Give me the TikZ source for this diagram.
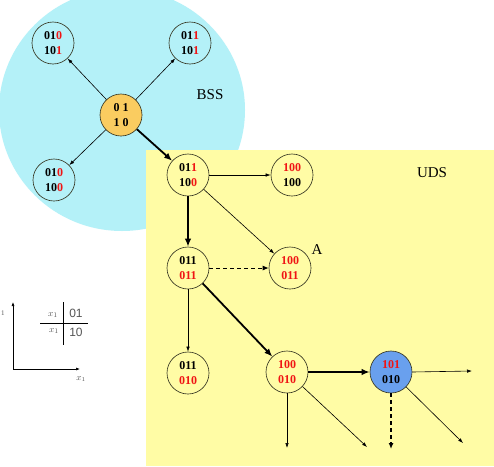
\documentclass[tikz,border=0pt]{standalone}
\usepackage{fontspec}
\setmainfont{Liberation Serif}
\newfontfamily\tabsans{Liberation Sans}
\usetikzlibrary{arrows.meta}
\definecolor{cyanbg}{RGB}{180,241,248}
\definecolor{yellowbg}{RGB}{255,252,165}
\definecolor{orangefill}{RGB}{250,204,96}
\definecolor{bluefill}{RGB}{105,160,238}
\definecolor{digitred}{RGB}{240,20,20}
\definecolor{nodeline}{RGB}{55,55,35}
\definecolor{tabgray}{RGB}{85,85,85}
\newcommand{\rd}[1]{\textcolor{digitred}{#1}}
\begin{document}
\begin{tikzpicture}[x=1pt,y=-1pt,
  st/.style={circle,draw=nodeline,line width=0.65pt,minimum size=42pt,inner sep=0pt,align=center,
    font=\bfseries\fontsize{12}{15.5}\selectfont},
  thinarr/.style={-{Latex[length=5pt,width=3.5pt]},line width=0.6pt},
  thickarr/.style={-{Latex[length=8pt,width=6.5pt]},line width=1.8pt},
  dasharr/.style={-{Latex[length=6pt,width=5pt]},line width=0.9pt,dash pattern=on 4pt off 3pt},
  axisarr/.style={-{Latex[length=4pt,width=3pt]},line width=0.6pt},
  lbl/.style={font=\fontsize{15}{17}\selectfont,inner sep=0pt},
  tabtxt/.style={text=tabgray,inner sep=0pt}]
\useasboundingbox (0,0) rectangle (494,466);
\fill[white] (0,0) rectangle (494,466);
\begin{scope}
  \clip (0,0) rectangle (494,466);
  \fill[cyanbg] (122,110) ellipse [x radius=123, y radius=121];
\end{scope}
\fill[yellowbg] (146,150) rectangle (494,466);

% nodes
\node[st,fill=orangefill] (c) at (121,115) {0 1\\1 0};
\node[st] (tl) at (53,43) {01\rd{0}\\10\rd{1}};
\node[st] (tr) at (190,43) {01\rd{1}\\10\rd{1}};
\node[st] (bl) at (54,180) {01\rd{0}\\10\rd{0}};
\node[st] (y1) at (188,175) {01\rd{1}\\10\rd{0}};
\node[st] (y2) at (292,175) {\rd{100}\\100};
\node[st] (y3) at (188,268) {011\\\rd{011}};
\node[st] (a) at (290,268) {\rd{100}\\\rd{011}};
\node[st] (y5) at (188,373) {011\\\rd{010}};
\node[st] (y6) at (287,372) {\rd{100}\\\rd{010}};
\node[st,fill=bluefill] (b) at (391,372) {\rd{101}\\010};

% labels
\node[lbl] (bss) at (210,95) {BSS};
\node[lbl] (uds) at (432,173) {UDS};
\node[lbl] (alab) at (317,250) {A};

% free ends
\coordinate (e1) at (287,448);
\coordinate (e2) at (367,447);
\coordinate (e3) at (391,449);
\coordinate (e4) at (463,443);
\coordinate (e5) at (472,371);

% edges
\draw[thinarr] (c) -- (tl);
\draw[thinarr] (c) -- (tr);
\draw[thinarr] (c) -- (bl);
\draw[thickarr] (c) -- (y1);
\draw[thinarr] (y1) -- (y2);
\draw[thinarr] (y1) -- (a);
\draw[thickarr] (y1) -- (y3);
\draw[dasharr] (y3) -- (a);
\draw[thinarr] (y3) -- (y5);
\draw[thickarr] (y3) -- (y6);
\draw[thickarr] (y6) -- (b);
\draw[thinarr] (y6) -- (e1);
\draw[thinarr] (y6) -- (e2);
\draw[thinarr] (b.east) -- (e5);
\draw[dasharr,line width=1.2pt] (b) -- (e3);
\draw[thinarr] (b) -- (e4);

% axes
\coordinate (o) at (13,369);
\coordinate (ya) at (13,302);
\coordinate (xa) at (80,369);
\draw[axisarr] (o) -- (ya);
\draw[axisarr] (o) -- (xa);
\node[tabtxt,font=\fontsize{7}{8}\selectfont] (ylab) at (3,313) {1};
\node[tabtxt,font=\fontsize{9}{10}\selectfont] (xlab) at (81,379) {$x_1$};

% table
\coordinate (tv1) at (63,302);
\coordinate (tv2) at (63,345);
\coordinate (th1) at (40,323);
\coordinate (th2) at (88,323);
\draw[line width=0.6pt] (tv1) -- (tv2);
\draw[line width=0.6pt] (th1) -- (th2);
\node[tabtxt,font=\fontsize{9.5}{10}\selectfont] (t1) at (53,315) {$x_1$};
\node[tabtxt,font=\fontsize{9.5}{10}\selectfont] (t2) at (54,331) {$x_1$};
\node[tabtxt,font=\tabsans\fontsize{12}{13}\selectfont] (t3) at (76,313) {01};
\node[tabtxt,font=\tabsans\fontsize{12}{13}\selectfont] (t4) at (76,332) {10};
\end{tikzpicture}
\end{document}
